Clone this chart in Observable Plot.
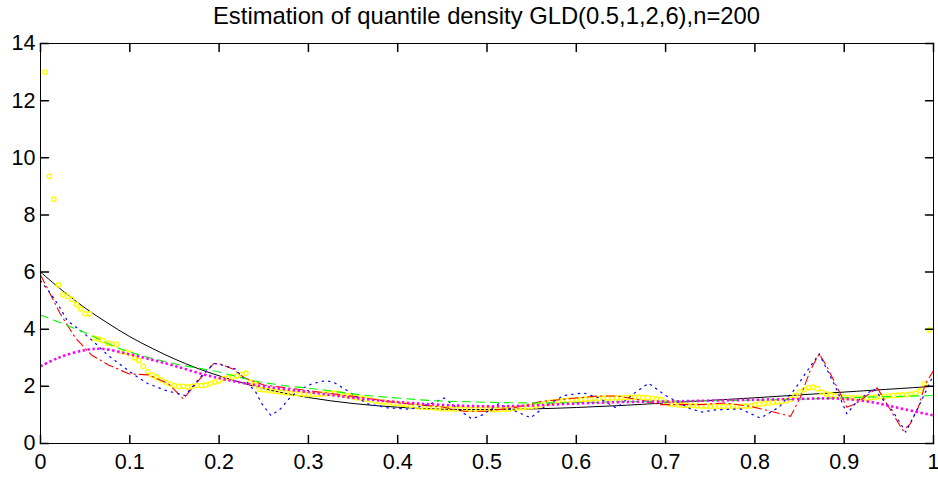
<!DOCTYPE html>
<html>
<head>
<meta charset="utf-8">
<script src="https://cdn.jsdelivr.net/npm/d3@7"></script>
<script src="https://cdn.jsdelivr.net/npm/@observablehq/plot@0.6"></script>
<style>
  html, body { margin: 0; padding: 0; background: #fff; }
  #title { margin-left: 40px; width: 893px; height: 32px; line-height: 32px; text-align: center;
           font-family: "Liberation Sans", Arial, sans-serif; font-size: 23.8px; color: #000; white-space: nowrap; }
  #chart svg { display: block; overflow: visible; }
</style>
</head>
<body>
<div id="title">Estimation of quantile density GLD(0.5,1,2,6),n=200</div>
<div id="chart"></div>
<script>
// ---- tick values / labels ----
const xTicks = [0, 0.1, 0.2, 0.3, 0.4, 0.5, 0.6, 0.7, 0.8, 0.9, 1];
const xTickLabels = ["0", "0.1", "0.2", "0.3", "0.4", "0.5", "0.6", "0.7", "0.8", "0.9", "1"];
const yTicks = [0, 2, 4, 6, 8, 10, 12, 14];
const yTickLabels = ["0", "2", "4", "6", "8", "10", "12", "14"];

// ---- true quantile density (black solid) ----
const blackX = [0, 0.025, 0.05, 0.075, 0.1, 0.125, 0.15, 0.175, 0.2, 0.25, 0.3, 0.35, 0.4, 0.45, 0.5, 0.55, 0.6, 0.65, 0.7, 0.8, 0.9, 1.0];
const blackY = [6.0, 5.34, 4.74, 4.22, 3.74, 3.33, 2.96, 2.64, 2.37, 1.92, 1.61, 1.40, 1.27, 1.20, 1.19, 1.21, 1.26, 1.33, 1.42, 1.60, 1.80, 2.0];

// ---- red dash-dot estimate ----
const redX = [0, 0.005, 0.022, 0.039, 0.057, 0.076, 0.099, 0.121, 0.143, 0.16, 0.179, 0.194, 0.2, 0.216, 0.228, 0.25, 0.3, 0.35, 0.4, 0.45, 0.474, 0.5, 0.53, 0.56, 0.6, 0.623, 0.647, 0.675, 0.694, 0.739, 0.765, 0.795, 0.814, 0.84, 0.851, 0.862, 0.872, 0.881, 0.892, 0.903, 0.913, 0.937, 0.95, 0.961, 0.966, 0.974, 0.983, 0.991, 1.0];
const redY = [5.9, 5.6, 4.55, 3.7, 3.1, 2.75, 2.44, 2.4, 2.1, 1.56, 2.28, 2.8, 2.8, 2.6, 2.3, 2.05, 1.85, 1.65, 1.42, 1.28, 1.13, 1.13, 1.25, 1.47, 1.59, 1.66, 1.66, 1.5, 1.36, 1.36, 1.42, 1.3, 1.16, 0.95, 1.62, 2.56, 3.14, 2.67, 1.97, 1.27, 1.39, 1.95, 1.27, 0.7, 0.45, 0.69, 1.27, 2.09, 2.55];

// ---- blue dotted estimate ----
const blueX = [0, 0.01, 0.02, 0.03, 0.045, 0.06, 0.075, 0.09, 0.105, 0.12, 0.14, 0.162, 0.179, 0.194, 0.203, 0.218, 0.241, 0.248, 0.258, 0.269, 0.278, 0.289, 0.304, 0.319, 0.328, 0.343, 0.366, 0.388, 0.414, 0.437, 0.452, 0.47, 0.483, 0.495, 0.513, 0.534, 0.549, 0.565, 0.586, 0.608, 0.625, 0.645, 0.664, 0.681, 0.7, 0.728, 0.741, 0.756, 0.784, 0.806, 0.827, 0.845, 0.859, 0.872, 0.89, 0.903, 0.915, 0.933, 0.954, 0.969, 0.985, 1.0];
const blueY = [5.7, 5.3, 4.85, 4.3, 3.95, 3.55, 3.1, 2.75, 2.4, 2.1, 1.86, 1.68, 2.32, 2.8, 2.75, 2.61, 1.8, 1.39, 0.98, 1.22, 1.56, 1.86, 2.09, 2.2, 2.15, 1.86, 1.39, 1.25, 1.2, 1.39, 1.59, 1.15, 0.86, 1.0, 1.39, 1.1, 0.9, 1.3, 1.68, 1.77, 1.6, 1.24, 1.74, 2.11, 1.68, 1.21, 1.1, 1.18, 1.21, 0.89, 1.27, 1.91, 2.56, 3.14, 2.0, 1.04, 1.5, 1.91, 1.15, 0.4, 1.4, 2.4];

// ---- green dashed estimate ----
const greenX = [0, 0.03, 0.05, 0.085, 0.12, 0.16, 0.2, 0.235, 0.27, 0.31, 0.36, 0.4, 0.44, 0.48, 0.52, 0.56, 0.6, 0.65, 0.7, 0.75, 0.8, 0.85, 0.9, 0.95, 1.0];
const greenY = [4.5, 4.13, 3.88, 3.37, 3.02, 2.73, 2.5, 2.22, 2.04, 1.9, 1.7, 1.59, 1.5, 1.46, 1.43, 1.42, 1.43, 1.46, 1.48, 1.5, 1.52, 1.55, 1.6, 1.64, 1.68];

// ---- magenta thick dotted estimate ----
const magentaX = [0, 0.02, 0.05, 0.07, 0.1, 0.125, 0.15, 0.18, 0.21, 0.25, 0.3, 0.35, 0.4, 0.45, 0.5, 0.55, 0.6, 0.65, 0.7, 0.75, 0.8, 0.85, 0.88, 0.9, 0.93, 0.96, 1.0];
const magentaY = [2.7, 3.0, 3.27, 3.31, 3.12, 2.93, 2.72, 2.44, 2.22, 2.0, 1.8, 1.6, 1.45, 1.35, 1.3, 1.33, 1.4, 1.45, 1.47, 1.5, 1.53, 1.56, 1.58, 1.56, 1.45, 1.25, 0.98];

// ---- yellow circles: empirical values at u = k/200, k = 1..199 ----
const yellowY = [
  13.0, 9.35, 8.55, 5.55, 5.21, 5.15, 5.05, 4.87, 4.71, 4.54,
  4.54, 3.69, 3.66, 3.6, 3.51, 3.49, 3.47, 3.22, 3.2, 3.16,
  3.0, 2.9, 2.7, 2.52, 2.4, 2.32, 2.23, 2.15, 2.09, 2.03,
  2.0, 2.0, 1.98, 2.0, 2.03, 2.03, 2.05, 2.09, 2.15, 2.2,
  2.27, 2.3, 2.33, 2.37, 2.41, 2.46, 2.15, 2.07, 1.9, 1.88,
  1.86, 1.84, 1.82, 1.8, 1.78, 1.76, 1.75, 1.74, 1.73, 1.72,
  1.72, 1.72, 1.73, 1.74, 1.76, 1.76, 1.74, 1.7, 1.67, 1.63,
  1.6, 1.59, 1.55, 1.53, 1.49, 1.47, 1.45, 1.43, 1.41, 1.4,
  1.38, 1.36, 1.33, 1.31, 1.28, 1.27, 1.26, 1.25, 1.24, 1.22,
  1.22, 1.21, 1.21, 1.21, 1.2, 1.2, 1.2, 1.2, 1.21, 1.21,
  1.2, 1.19, 1.19, 1.2, 1.21, 1.23, 1.25, 1.26, 1.28, 1.3,
  1.32, 1.35, 1.4, 1.44, 1.46, 1.48, 1.5, 1.51, 1.52, 1.53,
  1.54, 1.55, 1.56, 1.57, 1.58, 1.59, 1.59, 1.59, 1.6, 1.6,
  1.61, 1.62, 1.62, 1.62, 1.61, 1.6, 1.58, 1.56, 1.54, 1.45,
  1.39, 1.37, 1.35, 1.34, 1.33, 1.33, 1.32, 1.31, 1.31, 1.3,
  1.3, 1.3, 1.3, 1.3, 1.3, 1.3, 1.3, 1.31, 1.31, 1.35,
  1.38, 1.4, 1.42, 1.44, 1.45, 1.47, 1.5, 1.55, 1.68, 1.8,
  1.88, 1.95, 1.97, 1.92, 1.8, 1.74, 1.7, 1.67, 1.64, 1.62,
  1.61, 1.6, 1.6, 1.59, 1.58, 1.6, 1.62, 1.64, 1.65, 1.67,
  1.68, 1.69, 1.7, 1.71, 1.73, 1.76, 1.85, 2.1, 3.98
];

// ---- build tables ----
const zip = (xs, ys) => xs.map((x, i) => ({x, y: ys[i]}));
const black = zip(blackX, blackY);
const red = zip(redX, redY);
const blue = zip(blueX, blueY);
const green = zip(greenX, greenY);
const magenta = zip(magentaX, magentaY);
const yellow = yellowY.map((y, i) => ({x: (i + 1) / 200, y}));

const tickShape = {draw(context, l) { context.moveTo(0, 0); context.lineTo(0, -l); }};
const TL = 8;

const chart = Plot.plot({
  width: 938,
  height: 446,
  marginLeft: 40,
  marginRight: 5,
  marginTop: 11,
  marginBottom: 35,
  style: {fontFamily: "Liberation Sans, Arial, sans-serif", fontSize: "21.5px", color: "#000", background: "#fff"},
  x: {domain: [0, 1]},
  y: {domain: [0, 14]},
  marks: [
    Plot.line(black, {x: "x", y: "y", stroke: "#000", strokeWidth: 1, curve: "catmull-rom"}),
    Plot.dot(yellow, {x: "x", y: "y", r: 2.2, stroke: "#ffff00", strokeWidth: 1.3, fill: "none"}),
    Plot.line(red, {x: "x", y: "y", stroke: "#ff0000", strokeWidth: 1.1, strokeDasharray: "9,4,1.5,4"}),
    Plot.line(blue, {x: "x", y: "y", stroke: "#0000ff", strokeWidth: 1.2, strokeDasharray: "1.5,5"}),
    Plot.line(green, {x: "x", y: "y", stroke: "#00ff00", strokeWidth: 1.1, strokeDasharray: "8,6", curve: "catmull-rom"}),
    Plot.line(magenta, {x: "x", y: "y", stroke: "#ff00ff", strokeWidth: 2.6, strokeDasharray: "2.4,2.6", strokeLinecap: "butt", curve: "catmull-rom"}),
    // inward ticks on all four sides
    Plot.vector(xTicks, {x: d => d, y: 0, length: TL, rotate: 0, anchor: "start", shape: tickShape, stroke: "#000"}),
    Plot.vector(xTicks, {x: d => d, y: 14, length: TL, rotate: 180, anchor: "start", shape: tickShape, stroke: "#000"}),
    Plot.vector(yTicks, {x: 0, y: d => d, length: TL, rotate: 90, anchor: "start", shape: tickShape, stroke: "#000"}),
    Plot.vector(yTicks, {x: 1, y: d => d, length: TL, rotate: -90, anchor: "start", shape: tickShape, stroke: "#000"}),
    Plot.frame({stroke: "#000", strokeWidth: 1}),
    Plot.axisX({ticks: xTicks, tickFormat: (d) => xTickLabels[xTicks.indexOf(d)], tickSize: 0, tickPadding: 10, label: null, fill: "#000"}),
    Plot.axisY({ticks: yTicks, tickFormat: (d) => yTickLabels[yTicks.indexOf(d)], tickSize: 0, tickPadding: 5, label: null, fill: "#000"})
  ]
});
document.getElementById("chart").appendChild(chart);
</script>
</body>
</html>
